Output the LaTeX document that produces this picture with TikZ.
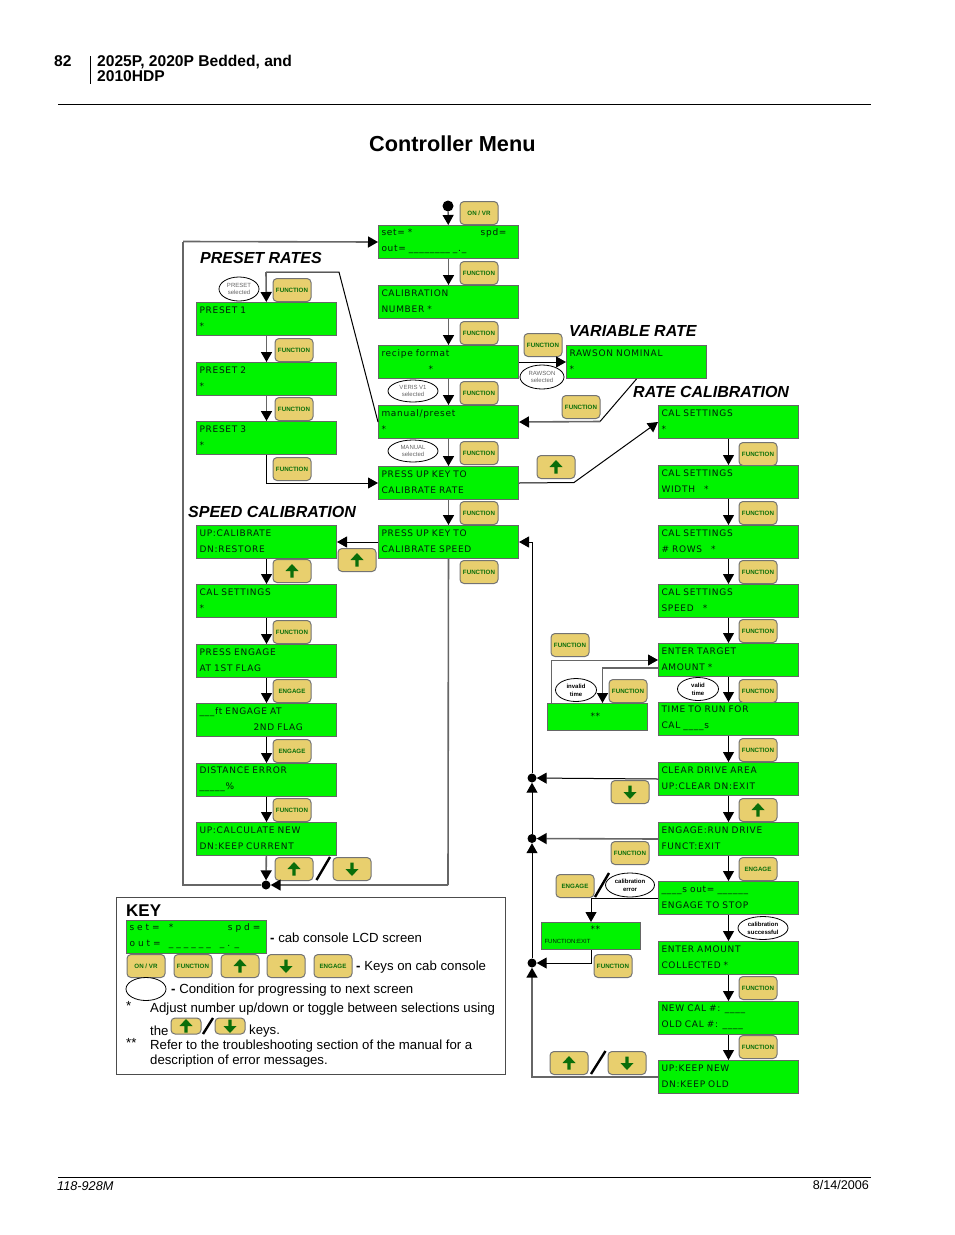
\documentclass[tikz,border=0pt]{standalone}
\usepackage{fontspec}
\usetikzlibrary{arrows.meta,shapes.geometric}
\setmainfont{Liberation Sans}
\newfontfamily\lcdfont[LetterSpace=8,WordSpace=1.4]{DejaVu Sans}
\definecolor{lcdgreen}{RGB}{0,243,0}
\definecolor{keyyellow}{RGB}{232,207,110}
\definecolor{keygreen}{RGB}{10,110,10}
\definecolor{lcdink}{RGB}{0,30,10}
\tikzset{
	lcd/.style={draw=black!60, line width=1pt, fill=lcdgreen, anchor=north west, minimum width=140pt, minimum height=33pt, text width=134pt, inner xsep=3pt, inner ysep=0pt, align=left, text=lcdink, font=\lcdfont\fontsize{9}{16}\selectfont, execute at end node={\par\vspace*{2pt}}},
	errlcd/.style={lcd, minimum height=27pt, execute at end node={}},
	keybox/.style={draw=black!55, line width=1pt, fill=keyyellow, rounded corners=4pt, minimum width=38pt, minimum height=23pt, inner sep=0pt, text=keygreen, font=\bfseries\fontsize{6.2}{7}\selectfont},
	upkey/.style={keybox, path picture={\fill[keygreen, sharp corners, shift={(path picture bounding box.center)}, scale=#1] (0,-7) -- (6.5,0) -- (1.6,0) -- (1.6,6.5) -- (-1.6,6.5) -- (-1.6,0) -- (-6.5,0) -- cycle;}},
	upkey/.default=1,
	downkey/.style={keybox, path picture={\fill[keygreen, sharp corners, shift={(path picture bounding box.center)}, scale=#1] (0,7) -- (6.5,0) -- (1.6,0) -- (1.6,-6.5) -- (-1.6,-6.5) -- (-1.6,0) -- (-6.5,0) -- cycle;}},
	downkey/.default=1,
	cond/.style={ellipse, draw=black, line width=0.8pt, fill=white, minimum width=46pt, minimum height=23pt, inner sep=0pt, align=center, text=black!60, font=\fontsize{6}{7.5}\selectfont},
	condb/.style={cond, text=black, font=\bfseries\fontsize{6}{8}\selectfont},
	heading/.style={anchor=west, inner sep=0pt, font=\bfseries\itshape\fontsize{16}{18}\selectfont},
	note/.style={anchor=west, inner sep=0pt, font=\fontsize{13.2}{15}\selectfont},
	junction/.style={circle, fill=black, minimum size=9pt, inner sep=0pt},
	link/.style={draw=black, line width=1pt, -{Triangle[length=10pt,width=11pt,color=black]}},
	glink/.style={link, draw=black!60, line width=1.6pt},
	plain/.style={draw=black, line width=1pt},
	gplain/.style={draw=black!60, line width=1.6pt},
	slash/.style={draw=black, line width=2.4pt},
}
\begin{document}
\begin{tikzpicture}[x=1pt, y=-1pt]
	\useasboundingbox (0,0) rectangle (954,1235);

	% page header and footer
	\node[note, font=\bfseries\fontsize{15.6}{16}\selectfont] (pagenum) at (54,61) {82};
	\node[note, font=\bfseries\fontsize{15.6}{15}\selectfont, align=left] (booktitle) at (97,68) {2025P, 2020P Bedded, and\\2010HDP};
	\draw[black, line width=0.8pt] (90.5,56) -- (90.5,84);
	\draw[black, line width=0.8pt] (58,104.5) -- (871,104.5);
	\draw[black, line width=0.8pt] (58,1177) -- (871,1177);
	\node[note, font=\itshape\fontsize{12.7}{14}\selectfont] (partnum) at (57,1186.5) {118-928M};
	\node[note, anchor=east, font=\fontsize{12.6}{14}\selectfont] (pagedate) at (869,1184.5) {8/14/2006};
	\node[note, font=\bfseries\fontsize{21.7}{24}\selectfont] (menutitle) at (369,143.5) {Controller Menu};

	% section titles
	\node[heading] (presettitle) at (200,258) {PRESET RATES};
	\node[heading] (speedtitle) at (188,511.5) {SPEED CALIBRATION};
	\node[heading] (variabletitle) at (569,330.5) {VARIABLE RATE};
	\node[heading] (ratetitle) at (633,391.5) {RATE CALIBRATION};

	% middle column of screens
	\node[lcd] (mainscr) at (378,225) {set= *\hfill spd=\rule{9pt}{0pt}\\out= \_\_\_\_\_\_\_\_ \_.\_};
	\node[lcd] (calnum) at (378,285) {CALIBRATION\\NUMBER *};
	\node[lcd] (recipe) at (378,345) {recipe format\\\hspace*{47pt}*};
	\node[lcd] (manual) at (378,405) {manual/preset\\{}*};
	\node[lcd] (pressrate) at (378,466) {PRESS UP KEY TO\\CALIBRATE RATE};
	\node[lcd] (pressspeed) at (378,525) {PRESS UP KEY TO\\CALIBRATE SPEED};

	% left column of screens
	\node[lcd] (preset1) at (196,302) {PRESET 1\\{}*};
	\node[lcd] (preset2) at (196,362) {PRESET 2\\{}*};
	\node[lcd] (preset3) at (196,421) {PRESET 3\\{}*};
	\node[lcd] (upcal) at (196,525) {UP:CALIBRATE\\DN:RESTORE};
	\node[lcd] (speedset) at (196,584) {CAL SETTINGS\\{}*};
	\node[lcd] (firstflag) at (196,644) {PRESS ENGAGE\\AT 1ST FLAG};
	\node[lcd] (secondflag) at (196,703) {\_\_\_ft ENGAGE AT\\\hspace*{54pt}2ND FLAG};
	\node[lcd] (disterror) at (196,763) {DISTANCE ERROR\\\_\_\_\_\_\%};
	\node[lcd] (upcalc) at (196,822) {UP:CALCULATE NEW\\DN:KEEP CURRENT};

	% right column of screens
	\node[lcd] (rawson) at (566,345) {RAWSON NOMINAL\\{}*};
	\node[lcd] (ratecal) at (658,405) {CAL SETTINGS\\{}*};
	\node[lcd] (widthset) at (658,465) {CAL SETTINGS\\WIDTH\hspace*{6pt} *};
	\node[lcd] (rowsset) at (658,525) {CAL SETTINGS\\\# ROWS\hspace*{6pt} *};
	\node[lcd] (speedcal) at (658,584) {CAL SETTINGS\\SPEED\hspace*{6pt} *};
	\node[lcd] (target) at (658,643) {ENTER TARGET\\AMOUNT *};
	\node[lcd] (runtime) at (658,702) {TIME TO RUN FOR\\CAL \_\_\_\_s};
	\node[lcd] (cleararea) at (658,762) {CLEAR DRIVE AREA\\UP:CLEAR DN:EXIT};
	\node[lcd] (rundrive) at (658,822) {ENGAGE:RUN DRIVE\\FUNCT:EXIT};
	\node[lcd] (stopdrive) at (658,881) {\_\_\_\_s out= \_\_\_\_\_\_\\ENGAGE TO STOP};
	\node[lcd] (collected) at (658,941) {ENTER AMOUNT\\COLLECTED *};
	\node[lcd] (newold) at (658,1001) {NEW CAL \#: \_\_\_\_\\OLD CAL \#: \_\_\_\_};
	\node[lcd] (keepnew) at (658,1060) {UP:KEEP NEW\\DN:KEEP OLD};

	% error screens
	\node[errlcd, minimum width=100pt, text width=94pt] (errtime) at (547,703) {\hspace*{40pt}**};
	\node[errlcd, minimum width=99pt, text width=93pt] (errcal) at (541,922) {\hspace*{46pt}**\\[-5pt]{\rmfamily\fontsize{6}{7}\selectfont FUNCTION:EXIT}};

	% keys of the middle column
	\node[keybox] (onkey) at (479,213) {ON / VR};
	\node[keybox] (fnmain) at (479,273) {FUNCTION};
	\node[keybox] (fnnum) at (479,333) {FUNCTION};
	\node[keybox] (fnrecipe) at (479,393) {FUNCTION};
	\node[keybox] (fnmanual) at (479,453) {FUNCTION};
	\node[keybox] (fnrate) at (479,513) {FUNCTION};
	\node[keybox] (fnspeed) at (479,572) {FUNCTION};
	\node[keybox] (fnrawson) at (543,345) {FUNCTION};
	\node[keybox] (fnback) at (581,407) {FUNCTION};
	\node[upkey] (upratekey) at (556,467) {};
	\node[upkey] (upspeedkey) at (357,560) {};

	% keys of the left column
	\node[keybox] (fnpreset0) at (292,290) {FUNCTION};
	\node[keybox] (fnpreset1) at (294,350) {FUNCTION};
	\node[keybox] (fnpreset2) at (294,409) {FUNCTION};
	\node[keybox] (fnpreset3) at (292,469) {FUNCTION};
	\node[upkey] (upcalkey) at (292,571) {};
	\node[keybox] (fnset) at (292,632) {FUNCTION};
	\node[keybox] (engfirst) at (292,691) {ENGAGE};
	\node[keybox] (engsecond) at (292,751) {ENGAGE};
	\node[keybox] (fnerror) at (292,810) {FUNCTION};
	\node[upkey] (upnewkey) at (294,869) {};
	\node[downkey] (downnewkey) at (352,869) {};
	\draw[slash] (316.5,880) -- (330,857);

	% keys of the right column
	\node[keybox] (fnwidth) at (758,454) {FUNCTION};
	\node[keybox] (fnrows) at (758,513) {FUNCTION};
	\node[keybox] (fncalspeed) at (758,572) {FUNCTION};
	\node[keybox] (fntarget) at (758,631) {FUNCTION};
	\node[keybox] (fnretry) at (570,645) {FUNCTION};
	\node[keybox] (fninvalid) at (628,691) {FUNCTION};
	\node[keybox] (fnvalid) at (758,691) {FUNCTION};
	\node[keybox] (fnclear) at (758,750) {FUNCTION};
	\node[downkey] (downclear) at (630,792) {};
	\node[upkey] (upclear) at (758,810) {};
	\node[keybox] (fnexit) at (630,853) {FUNCTION};
	\node[keybox] (engrun) at (758,869) {ENGAGE};
	\node[keybox] (engerror) at (575,886) {ENGAGE};
	\node[keybox] (fnerrexit) at (613,966) {FUNCTION};
	\node[keybox] (fnnewcal) at (758,988) {FUNCTION};
	\node[keybox] (fnkeep) at (758,1047) {FUNCTION};
	\node[upkey] (upkeep) at (569,1063) {};
	\node[downkey] (downkeep) at (627,1063) {};
	\draw[slash] (591,1074) -- (605.5,1051);
	\draw[slash] (595,897) -- (609,873);

	% conditions
	\node[cond, minimum width=40pt, minimum height=24pt] (presetsel) at (239,289) {PRESET\\selected};
	\node[cond, minimum width=50pt, minimum height=22pt] (verissel) at (413,391) {VERIS V1\\selected};
	\node[cond, minimum width=50pt, minimum height=22pt] (manualsel) at (413,451) {MANUAL\\selected};
	\node[cond, minimum width=44pt, minimum height=24pt] (rawsonsel) at (542,377) {RAWSON\\selected};
	\node[condb, minimum width=41pt] (invalidtime) at (576,690) {invalid\\time};
	\node[condb, minimum width=41pt] (validtime) at (698,689) {valid\\time};
	\node[condb, minimum width=49pt, minimum height=24pt] (calerror) at (630,885) {calibration\\error};
	\node[condb, minimum width=50pt] (calok) at (763,928) {calibration\\successful};

	% junction points and bends
	\node[circle, fill=black, minimum size=11pt, inner sep=0pt] (startdot) at (448,206) {};
	\node[junction] (frameknot) at (266,885) {};
	\node[junction] (knot1) at (532,778) {};
	\node[junction] (knot2) at (532,838.5) {};
	\node[junction] (knot3) at (532,963) {};
	\coordinate (frameleft) at (183,885);
	\coordinate (frameright) at (448,885);
	\coordinate (frametop) at (183,241.5);
	\coordinate (presetbend) at (339,272);
	\coordinate (presetdrop) at (266,272);
	\coordinate (rawsonbend) at (600,421.5);
	\coordinate (ratebend) at (574,482.5);

	% connectors of the middle column
	\draw[link] (startdot) -- (mainscr);
	\draw[glink] (mainscr) -- (calnum);
	\draw[glink] (calnum) -- (recipe);
	\draw[glink] (recipe) -- (manual);
	\draw[glink] (manual) -- (pressrate);
	\draw[glink] (pressrate) -- (pressspeed);
	\draw[link] (pressspeed) -- (upcal);
	\draw[gplain] (pressspeed) -- (frameright);
	\draw[glink] (frameright) -- (frameknot);
	\draw[gplain] (frameknot) -- (frameleft) -- (frametop);
	\draw[glink] (frametop) -- (mainscr.west);

	% connectors of the left column
	\draw[plain] (manual.west) -- (presetbend) -- (presetdrop);
	\draw[glink] (presetdrop) -- (preset1);
	\draw[glink] (preset1) -- (preset2);
	\draw[glink] (preset2) -- (preset3);
	\draw[link] (preset3.south) |- (pressrate.west);
	\draw[link] (upcal) -- (speedset);
	\draw[link] (speedset) -- (firstflag);
	\draw[link] (firstflag) -- (secondflag);
	\draw[link] (secondflag) -- (disterror);
	\draw[link] (disterror) -- (upcalc);
	\draw[glink] (upcalc) -- (frameknot);

	% connectors of the right column
	\draw[link] (recipe.east) -- (rawson.west);
	\draw[plain] (rawson.south) -- (rawsonbend);
	\draw[glink] (rawsonbend) -- (manual.east);
	\draw[plain] (pressrate.east) -- (ratebend);
	\draw[link] (ratebend) -- (ratecal.west);
	\draw[link] (ratecal) -- (widthset);
	\draw[link] (widthset) -- (rowsset);
	\draw[link] (rowsset) -- (speedcal);
	\draw[link] (speedcal) -- (target);
	\draw[link] (target) -- (runtime);
	\draw[link] (runtime) -- (cleararea);
	\draw[link] (cleararea) -- (rundrive);
	\draw[link] (rundrive) -- (stopdrive);
	\draw[link] (stopdrive) -- (collected);
	\draw[link] (collected) -- (newold);
	\draw[link] (newold) -- (keepnew);
	\draw[link, draw=black!60] ([xshift=4pt]errtime.north west) |- (target.west);
	\draw[glink] ([yshift=-8pt]target.west) -| ([xshift=5pt]errtime.north);
	\draw[link] (stopdrive.west) -| (errcal.north);

	% return line on the right
	\draw[link] (cleararea.west) -- (knot1);
	\draw[glink] (rundrive.west) -- (knot2);
	\draw[link] (errcal.south) |- (knot3);
	\draw[glink] (keepnew.west) -| (knot3);
	\draw[link] (knot3) -- (knot2);
	\draw[link] (knot2) -- (knot1);
	\draw[link] (knot1) |- (pressspeed.east);

	% key to the symbols
	\node[draw=black!70, line width=1pt, anchor=north west, minimum width=389pt, minimum height=177pt] (keyframe) at (116,897) {};
	\node[note, font=\bfseries\fontsize{17}{18}\selectfont] (keytitle) at (126,911) {KEY};
	\node[lcd] (keyscr) at (126,920) {s e t = \hspace*{3pt} *\hfill s p d =\rule{3pt}{0pt}\\o u t = \hspace*{2pt} \_ \_ \_ \_ \_ \_ \hspace*{3pt} \_ . \_};
	\node[note] (keyscrnote) at (270,938) {\textbf{-} cab console LCD screen};
	\node[keybox, text=keygreen] (keyon) at (146,966) {ON / VR};
	\node[keybox] (keyfn) at (193,966) {FUNCTION};
	\node[upkey] (keyup) at (240,966) {};
	\node[downkey] (keydown) at (286,966) {};
	\node[keybox] (keyeng) at (333,966) {ENGAGE};
	\node[note] (keyconsole) at (356,967) {\textbf{-} Keys on cab console};
	\node[cond, minimum width=40pt, minimum height=23pt] (keycond) at (146,989) {};
	\node[note] (keycondnote) at (171,990) {\textbf{-} Condition for progressing to next screen};
	\node[note] (star1) at (126,1006) {*};
	\node[note] (keyadjust) at (150,1009) {Adjust number up/down or toggle between selections using};
	\node[note] (keythe) at (150,1031) {the};
	\node[upkey=0.7, minimum width=30pt, minimum height=16pt] (miniup) at (186,1026) {};
	\node[downkey=0.7, minimum width=30pt, minimum height=16pt] (minidown) at (230,1026) {};
	\draw[slash] (203,1034) -- (213,1018);
	\node[note] (keykeys) at (249,1031) {keys.};
	\node[note] (star2) at (126,1043) {**};
	\node[note] (keyrefer) at (150,1046) {Refer to the troubleshooting section of the manual for a};
	\node[note] (keydesc) at (150,1061) {description of error messages.};
\end{tikzpicture}
\end{document}
